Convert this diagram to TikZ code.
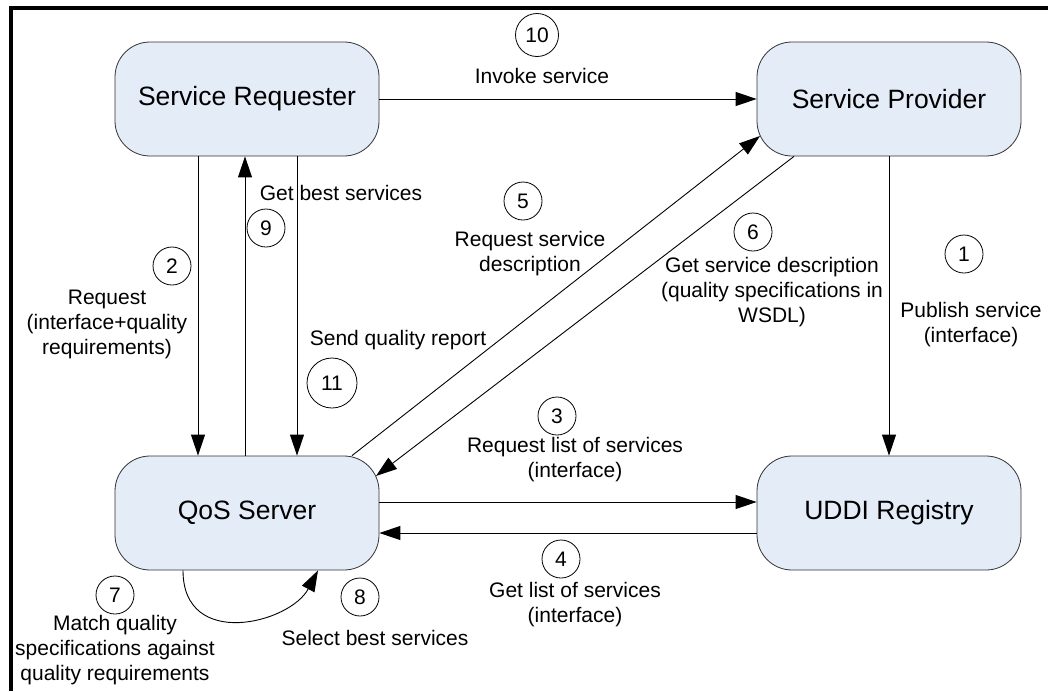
\documentclass[tikz,border=0pt]{standalone}
\usepackage{fontspec}
\setmainfont{Liberation Sans}
\usepackage{tikz}
\usetikzlibrary{arrows.meta}

\definecolor{boxblue}{RGB}{228,236,247}
\newcommand\lblfont{\fontsize{21}{25}\selectfont}

\begin{document}
\begin{tikzpicture}
  [x=1pt,y=-1pt,
   box/.style={draw=black!80,line width=0.8pt,rounded corners=35pt,fill=boxblue,
     minimum width=264pt,minimum height=114pt,font=\fontsize{26.5}{30}\selectfont},
   num/.style={circle,draw,line width=0.8pt,inner sep=0pt,minimum size=38pt,font=\lblfont},
   lbl/.style={align=center,inner sep=0pt,font=\lblfont},
   flow/.style={-{Triangle[length=21pt,width=14pt]},line width=0.9pt}]
  \useasboundingbox (0,0) rectangle (1048,691);
  \draw[line width=4pt] (10.5,691) -- (10.5,7.5) -- (1048,7.5);

  \node[box] (sr)   at (247,99)  {Service Requester};
  \node[box] (sp)   at (889,99)  {Service Provider};
  \node[box] (qos)  at (247,513) {QoS Server};
  \node[box] (uddi) at (889,513) {UDDI Registry};

  % step numbers
  \foreach \n/\x/\y in {1/964/254,2/172/266,3/557/416,4/561/559,5/523/201,
                        6/753/232,7/115/595,8/360/597,9/266/228}
    \node[num] (c\n) at (\x,\y) {\n};
  \node[num,minimum size=43pt] (c10) at (537,35)  {10};
  \node[num,minimum size=50pt] (c11) at (332,383) {11};

  % step texts
  \node[lbl] (l1)  at (971,325) {Publish service\\(interface)};
  \node[lbl] (l2)  at (107,324) {Request\\(interface+quality\\requirements)};
  \node[lbl] (l3)  at (575,460) {Request list of services\\(interface)};
  \node[lbl] (l4)  at (575,605) {Get list of services\\(interface)};
  \node[lbl] (l5)  at (530,254) {Request service\\description};
  \node[lbl] (l6)  at (772,292) {Get service description\\(quality specifications in\\WSDL)};
  \node[lbl] (l7)  at (115,650) {Match quality\\specifications against\\quality requirements};
  \node[lbl] (l8)  at (375,638) {Select best services};
  \node[lbl] (l9)  at (341,193) {Get best services};
  \node[lbl] (l10) at (542,76)  {Invoke service};
  \node[lbl] (l11) at (398,340) {Send quality report};

  \foreach \from/\to in {sr/sp,sp/uddi}
    \draw[flow] (\from) -- (\to);
  \draw[flow] ([shift={(-49,0)}]sr.south) -- ([shift={(-49,0)}]qos.north);
  \draw[flow] ([shift={(-2,0)}]qos.north) -- ([shift={(-2,0)}]sr.south);
  \draw[flow] ([shift={(50,0)}]sr.south) -- ([shift={(50,0)}]qos.north);
  \draw[flow] ([shift={(0,-11)}]qos.east) -- ([shift={(0,-11)}]uddi.west);
  \draw[flow] ([shift={(0,20)}]uddi.west) -- ([shift={(0,20)}]qos.east);
  \draw[flow] ([shift={(105,0)}]qos.north) -- ([shift={(-129,37)}]sp.center);
  \draw[flow] ([shift={(-95,0)}]sp.south) -- ([shift={(129,-37)}]qos.center);
  \draw[flow] ([shift={(-64,0)}]qos.south)
    .. controls +(0,80) and +(-28,53) .. ([shift={(71,0)}]qos.south);

\end{tikzpicture}
\end{document}
